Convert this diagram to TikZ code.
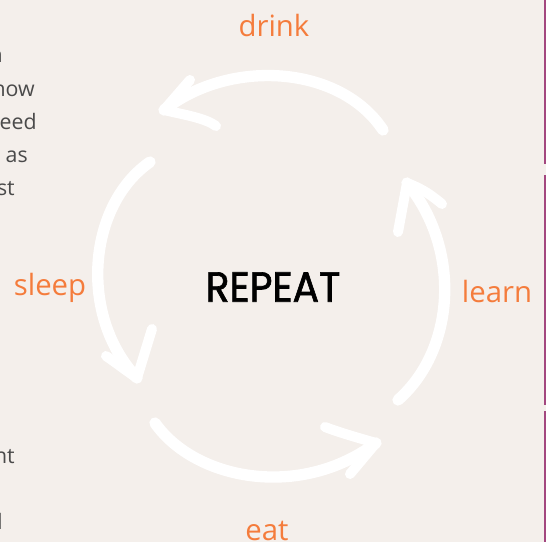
\documentclass[tikz,border=0pt]{standalone}
\usepackage{fontspec}
\setmainfont{Open Sans}
\newfontfamily\repfont[FakeBold=1.6]{Poppins}
\definecolor{bg}{HTML}{F4EFEB}
\definecolor{lbl}{HTML}{F47C3C}
\definecolor{side}{HTML}{A3477F}
\definecolor{txt}{HTML}{4A4A4A}
\tikzset{
  brush/.style={draw=white, line width=8.5pt, line cap=round, line join=round},
  wing/.style={draw=white, line width=7.5pt, line cap=round, line join=round},
  cyclelabel/.style={text=lbl, font=\fontsize{22}{26}\selectfont, anchor=base, inner sep=0pt},
  sidetext/.style={text=txt, font=\fontsize{16}{19}\selectfont, anchor=base east, inner sep=0pt},
  sidebar/.style={draw=side, line width=2.25pt}
}
\begin{document}
\begin{tikzpicture}[x=0.75pt,y=-0.75pt]
\fill[bg] (0,0) rectangle (546,542);
\useasboundingbox (0,0) rectangle (546,542);
\clip (0,0) rectangle (546,542);

% right side bars
\draw[sidebar] (545,0) -- (545,164);
\draw[sidebar] (545,175) -- (545,405);
\draw[sidebar] (545,411) -- (545,542);

% clipped text on the left
\node[sidetext] (t1) at (3,63) {n};
\node[sidetext] (t2) at (35,96) {how};
\node[sidetext] (t3) at (37,129) {eed};
\node[sidetext] (t4) at (28,162) {as};
\node[sidetext] (t5) at (15,195) {st};
\node[sidetext] (t6) at (15,463) {nt};
\node[sidetext] (t7) at (3,529) {d};

% labels
\node[cyclelabel] (drink) at (274,37) {drink};
\node[cyclelabel] (learn) at (497,302) {learn};
\node[cyclelabel] (sleep) at (50,295) {sleep};
\node[cyclelabel] (eat) at (267,540) {eat};

% center
\node (repeat) at (273,287) {\resizebox{101pt}{22pt}{\repfont REPEAT}};

% arrow coordinates
\coordinate (dT) at (383,130); \coordinate (dH) at (164,110);
\coordinate (lT) at (398,400); \coordinate (lH) at (407,183);
\coordinate (sT) at (150,162); \coordinate (sH) at (137,378);
\coordinate (eT) at (155,423); \coordinate (eH) at (376,443);

% top arrow (drink)
\draw[brush] (dT) .. controls (340,65) and (230,58) .. (dH);
\draw[wing] (dH) -- (190,80);
\draw[wing] (dH) .. controls (185,115) and (205,118) .. (216,126);

% right arrow (learn)
\draw[brush] (lT) .. controls (455,350) and (462,250) .. (lH);
\draw[wing] (lH) -- (398,232);
\draw[wing] (lH) .. controls (425,190) and (432,196) .. (442,204);

% left arrow (sleep)
\draw[brush] (sT) .. controls (88,205) and (78,315) .. (sH);
\draw[wing] (sH) .. controls (125,370) and (115,362) .. (106,356);
\draw[wing] (sH) -- (152,329);

% bottom arrow (eat)
\draw[brush] (eT) .. controls (195,480) and (300,500) .. (eH);
\draw[wing] (eH) .. controls (355,437) and (338,432) .. (325,427);
\draw[wing] (eH) -- (350,474);
\end{tikzpicture}
\end{document}
